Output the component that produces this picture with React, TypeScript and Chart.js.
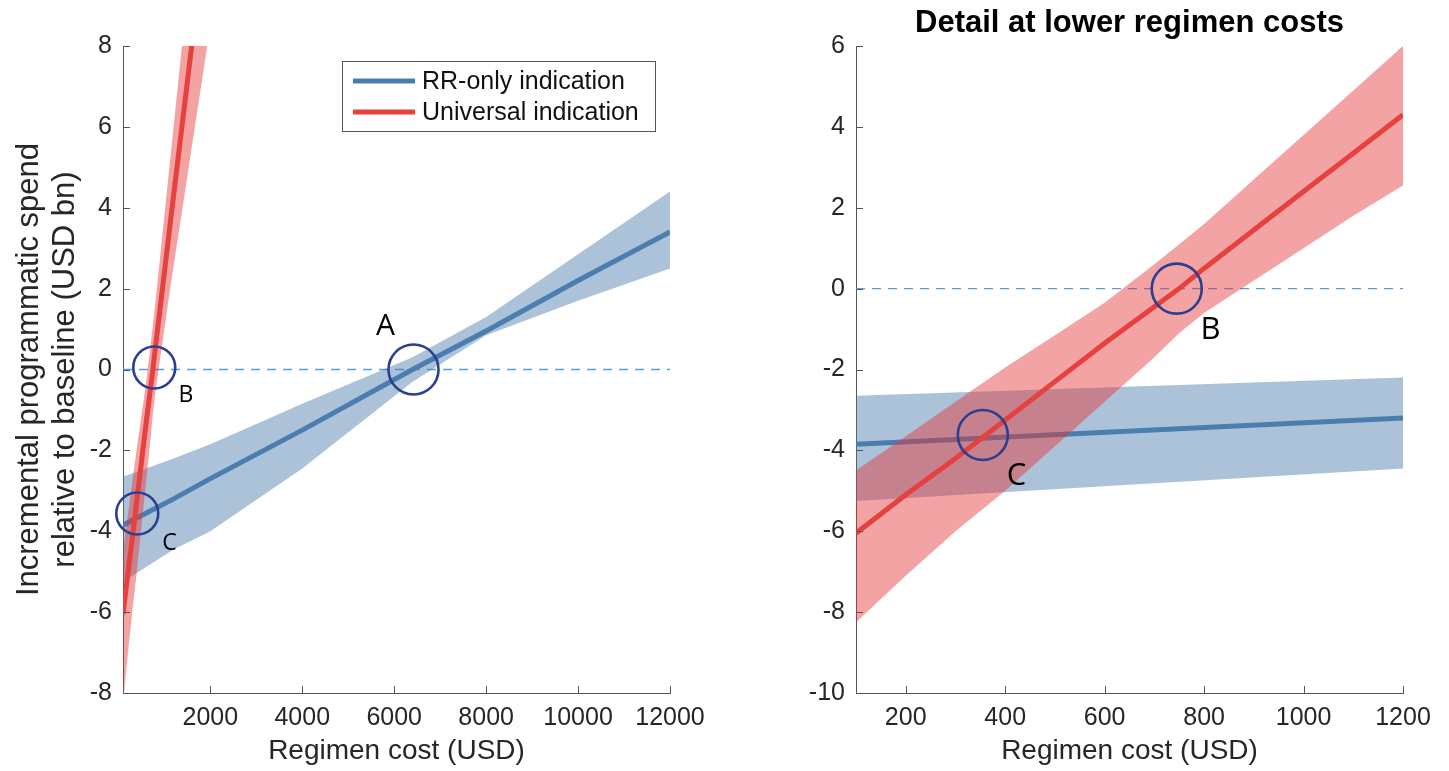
import React, { useEffect, useRef } from 'react';
import { Chart, registerables } from 'chart.js';

Chart.register(...registerables);

// ---------- data ----------
const rrCost = [100, 1200, 2000, 4000, 6400, 8000, 10000, 12000];
const rrMid = [-3.85, -3.2, -2.7, -1.5, 0.0, 0.95, 2.2, 3.4];
const rrLow = [-5.25, -4.45, -4.0, -2.45, -0.3, 0.85, 1.7, 2.5];
const rrHigh = [-2.65, -2.2, -1.85, -0.85, 0.3, 1.3, 2.85, 4.4];

const uniCost = [100, 200, 300, 400, 500, 600, 700, 750, 800, 900, 1000, 1100, 1200, 2000];
const uniMid = [-6.05, -5.1, -4.2, -3.25, -2.3, -1.35, -0.45, 0.0, 0.5, 1.45, 2.4, 3.35, 4.3, 11.8];
const uniLow = [-8.25, -7.1, -6.0, -5.0, -3.9, -2.8, -1.7, -1.1, -0.6, 0.2, 1.0, 1.8, 2.55, 8.5];
const uniHigh = [-4.5, -3.65, -2.8, -1.95, -1.15, -0.35, 0.6, 1.1, 1.6, 2.7, 3.8, 4.9, 6.0, 14.8];

const zeroCost = [100, 12000];
const zeroVal = [0, 0];

const leftMarkCost = [6420, 780, 410];
const leftMarkVal = [0, 0.05, -3.56];
const leftMarkText = ['A', 'B', 'C'];
const leftTextCost = [5810, 1470, 1110];
const leftTextVal = [1.06, -0.64, -4.29];

const rightMarkCost = [745, 355];
const rightMarkVal = [0, -3.62];
const rightMarkText = ['B', 'C'];
const rightTextCost = [813, 423];
const rightTextVal = [-1.02, -4.65];

const leftXRange = [100, 12000];
const leftXTickVals = [2000, 4000, 6000, 8000, 10000, 12000];
const leftYRange = [-8, 8];
const leftYTickVals = [-8, -6, -4, -2, 0, 2, 4, 6, 8];
const rightXRange = [100, 1200];
const rightXTickVals = [200, 400, 600, 800, 1000, 1200];
const rightYRange = [-10, 6];
const rightYTickVals = [-10, -8, -6, -4, -2, 0, 2, 4, 6];

const seriesNames = ['RR-only indication', 'Universal indication'];
const xTitle = 'Regimen cost (USD)';
const yTitle = ['Incremental programmatic spend', 'relative to baseline (USD bn)'];
const rightTitle = 'Detail at lower regimen costs';

// ---------- style ----------
const FONT = '"Liberation Sans", Arial, Helvetica, sans-serif';
const LETTER_FONT = '"Open Sans", "Liberation Sans", sans-serif';
const BLUE = '#4a7eb0';
const RED = '#e6413f';
const BLUE_BAND = 'rgba(70,120,170,0.45)';
const RED_BAND = 'rgba(228,50,50,0.45)';
const ZERO = '#5a9bd8';
const NAVY = '#2a3f8f';
const AXIS = '#555555';
const TEXT = '#262626';

const pts = (xs: number[], ys: number[]) => xs.map((x, i) => ({ x, y: ys[i] }));

function datasets(markCost: number[], markVal: number[], radii: number[]) {
  const hidden = { showLine: true, borderColor: 'transparent', borderWidth: 0, pointRadius: 0, tension: 0, clip: 0 };
  return [
    { label: 'zero', data: pts(zeroCost, zeroVal), showLine: true, borderColor: ZERO, borderWidth: 1.3, borderDash: [9, 7], pointRadius: 0, fill: false, order: 10, clip: 0 },
    { label: 'rrLow', data: pts(rrCost, rrLow), ...hidden, fill: false, order: 9 },
    { label: 'rrHigh', data: pts(rrCost, rrHigh), ...hidden, fill: '-1', backgroundColor: BLUE_BAND, order: 8 },
    { label: seriesNames[0], data: pts(rrCost, rrMid), showLine: true, borderColor: BLUE, borderWidth: 5, pointRadius: 0, tension: 0, fill: false, order: 7, clip: 0 },
    { label: 'uniLow', data: pts(uniCost, uniLow), ...hidden, fill: false, order: 6 },
    { label: 'uniHigh', data: pts(uniCost, uniHigh), ...hidden, fill: '-1', backgroundColor: RED_BAND, order: 5 },
    { label: seriesNames[1], data: pts(uniCost, uniMid), showLine: true, borderColor: RED, borderWidth: 5, pointRadius: 0, tension: 0, fill: false, order: 4, clip: 0 },
    { label: 'marks', data: pts(markCost, markVal), showLine: false, pointRadius: radii, pointBorderWidth: 2.6, pointBorderColor: NAVY, pointBackgroundColor: 'rgba(0,0,0,0)', fill: false, order: 1, clip: false },
  ];
}

const inwardTicks = {
  id: 'inwardTicks',
  afterDatasetsDraw(chart: any) {
    const { ctx, chartArea, scales } = chart;
    ctx.save();
    ctx.strokeStyle = AXIS;
    ctx.lineWidth = 1;
    ctx.beginPath();
    scales.x.ticks.forEach((t: any) => {
      const px = Math.round(scales.x.getPixelForValue(t.value)) + 0.5;
      ctx.moveTo(px, chartArea.bottom);
      ctx.lineTo(px, chartArea.bottom - 7);
    });
    scales.y.ticks.forEach((t: any) => {
      const py = Math.round(scales.y.getPixelForValue(t.value)) + 0.5;
      ctx.moveTo(chartArea.left, py);
      ctx.lineTo(chartArea.left + 7, py);
    });
    ctx.stroke();
    ctx.restore();
  },
};

function letterPlugin(texts: string[], xs: number[], ys: number[], sizes: number[]) {
  return {
    id: 'letters',
    afterDatasetsDraw(chart: any) {
      const { ctx, scales } = chart;
      ctx.save();
      ctx.fillStyle = '#000';
      ctx.textAlign = 'center';
      ctx.textBaseline = 'middle';
      texts.forEach((t, i) => {
        ctx.font = `${sizes[i]}px ${LETTER_FONT}`;
        ctx.fillText(t, scales.x.getPixelForValue(xs[i]), scales.y.getPixelForValue(ys[i]));
      });
      ctx.restore();
    },
  };
}

const legendPlugin = {
  id: 'boxLegend',
  afterDatasetsDraw(chart: any) {
    const { ctx } = chart;
    const x0 = 342, y0 = 61, w = 313, h = 70;
    ctx.save();
    ctx.fillStyle = '#fff';
    ctx.fillRect(x0, y0, w, h);
    ctx.strokeStyle = AXIS;
    ctx.lineWidth = 1;
    ctx.strokeRect(x0 + 0.5, y0 + 0.5, w, h);
    const colors = [BLUE, RED];
    seriesNames.forEach((name, i) => {
      const y = y0 + 20 + i * 31;
      ctx.strokeStyle = colors[i];
      ctx.lineWidth = 5;
      ctx.beginPath();
      ctx.moveTo(x0 + 11, y);
      ctx.lineTo(x0 + 73, y);
      ctx.stroke();
      ctx.fillStyle = '#111';
      ctx.font = `25px ${FONT}`;
      ctx.textAlign = 'left';
      ctx.textBaseline = 'middle';
      ctx.fillText(name, x0 + 80, y + 1);
    });
    ctx.restore();
  },
};

const titlePlugin = {
  id: 'topTitle',
  afterDraw(chart: any) {
    const { ctx, chartArea } = chart;
    ctx.save();
    ctx.fillStyle = '#000';
    ctx.font = `bold 31px ${FONT}`;
    ctx.textAlign = 'center';
    ctx.textBaseline = 'middle';
    ctx.fillText(rightTitle, (chartArea.left + chartArea.right) / 2, 23);
    ctx.restore();
  },
};

function scalesFor(xr: number[], xv: number[], yr: number[], yv: number[], yWidth: number, withYTitle: boolean) {
  const fmt = (v: any) => String(v);
  return {
    x: {
      type: 'linear',
      min: xr[0],
      max: xr[1],
      afterFit: (s: any) => { s.height = 78; },
      afterBuildTicks: (s: any) => { s.ticks = xv.map((v) => ({ value: v })); },
      grid: { display: true, drawOnChartArea: false, drawTicks: false },
      border: { display: true, color: AXIS, width: 1 },
      ticks: { autoSkip: false, maxRotation: 0, padding: 10, color: TEXT, font: { family: FONT, size: 25 }, callback: fmt },
      title: { display: true, text: xTitle, color: TEXT, font: { family: FONT, size: 28 }, padding: { top: 0, bottom: 3 } },
    },
    y: {
      type: 'linear',
      min: yr[0],
      max: yr[1],
      afterFit: (s: any) => { s.width = yWidth; },
      afterBuildTicks: (s: any) => { s.ticks = yv.map((v) => ({ value: v })); },
      grid: { display: true, drawOnChartArea: false, drawTicks: false },
      border: { display: true, color: AXIS, width: 1 },
      ticks: { autoSkip: false, padding: 11, color: TEXT, font: { family: FONT, size: 25 }, callback: fmt },
      title: { display: withYTitle, text: yTitle, color: TEXT, font: { family: FONT, size: 31, lineHeight: 1.15 }, padding: { top: 12, bottom: 0 } },
    },
  };
}

function useChart(ref: any, config: any) {
  useEffect(() => {
    const chart = new Chart(ref.current, config);
    return () => chart.destroy();
  }, []);
}

export default function App() {
  const leftRef = useRef<HTMLCanvasElement>(null);
  const rightRef = useRef<HTMLCanvasElement>(null);

  useChart(leftRef, {
    type: 'line',
    data: { datasets: datasets(leftMarkCost, leftMarkVal, [25, 21, 21]) },
    options: {
      responsive: false,
      animation: false,
      events: [],
      layout: { padding: { top: 46, right: 50, left: 0, bottom: 0 } },
      plugins: { legend: { display: false }, tooltip: { enabled: false }, title: { display: false } },
      scales: scalesFor(leftXRange, leftXTickVals, leftYRange, leftYTickVals, 123, true),
    },
    plugins: [inwardTicks, letterPlugin(leftMarkText, leftTextCost, leftTextVal, [30, 23, 23]), legendPlugin],
  });

  useChart(rightRef, {
    type: 'line',
    data: { datasets: datasets(rightMarkCost, rightMarkVal, [25, 25]) },
    options: {
      responsive: false,
      animation: false,
      events: [],
      layout: { padding: { top: 46, right: 46, left: 0, bottom: 0 } },
      plugins: { legend: { display: false }, tooltip: { enabled: false }, title: { display: false } },
      scales: scalesFor(rightXRange, rightXTickVals, rightYRange, rightYTickVals, 136, false),
    },
    plugins: [inwardTicks, letterPlugin(rightMarkText, rightTextCost, rightTextVal, [31, 31]), titlePlugin],
  });

  return (
    <div style={{ position: 'absolute', left: 0, top: 0, width: 1449, height: 771, background: '#fff', overflow: 'hidden' }}>
      <canvas ref={leftRef} width={720} height={771} style={{ position: 'absolute', left: 0, top: 0, width: 720, height: 771 }} />
      <canvas ref={rightRef} width={729} height={771} style={{ position: 'absolute', left: 720, top: 0, width: 729, height: 771 }} />
    </div>
  );
}
